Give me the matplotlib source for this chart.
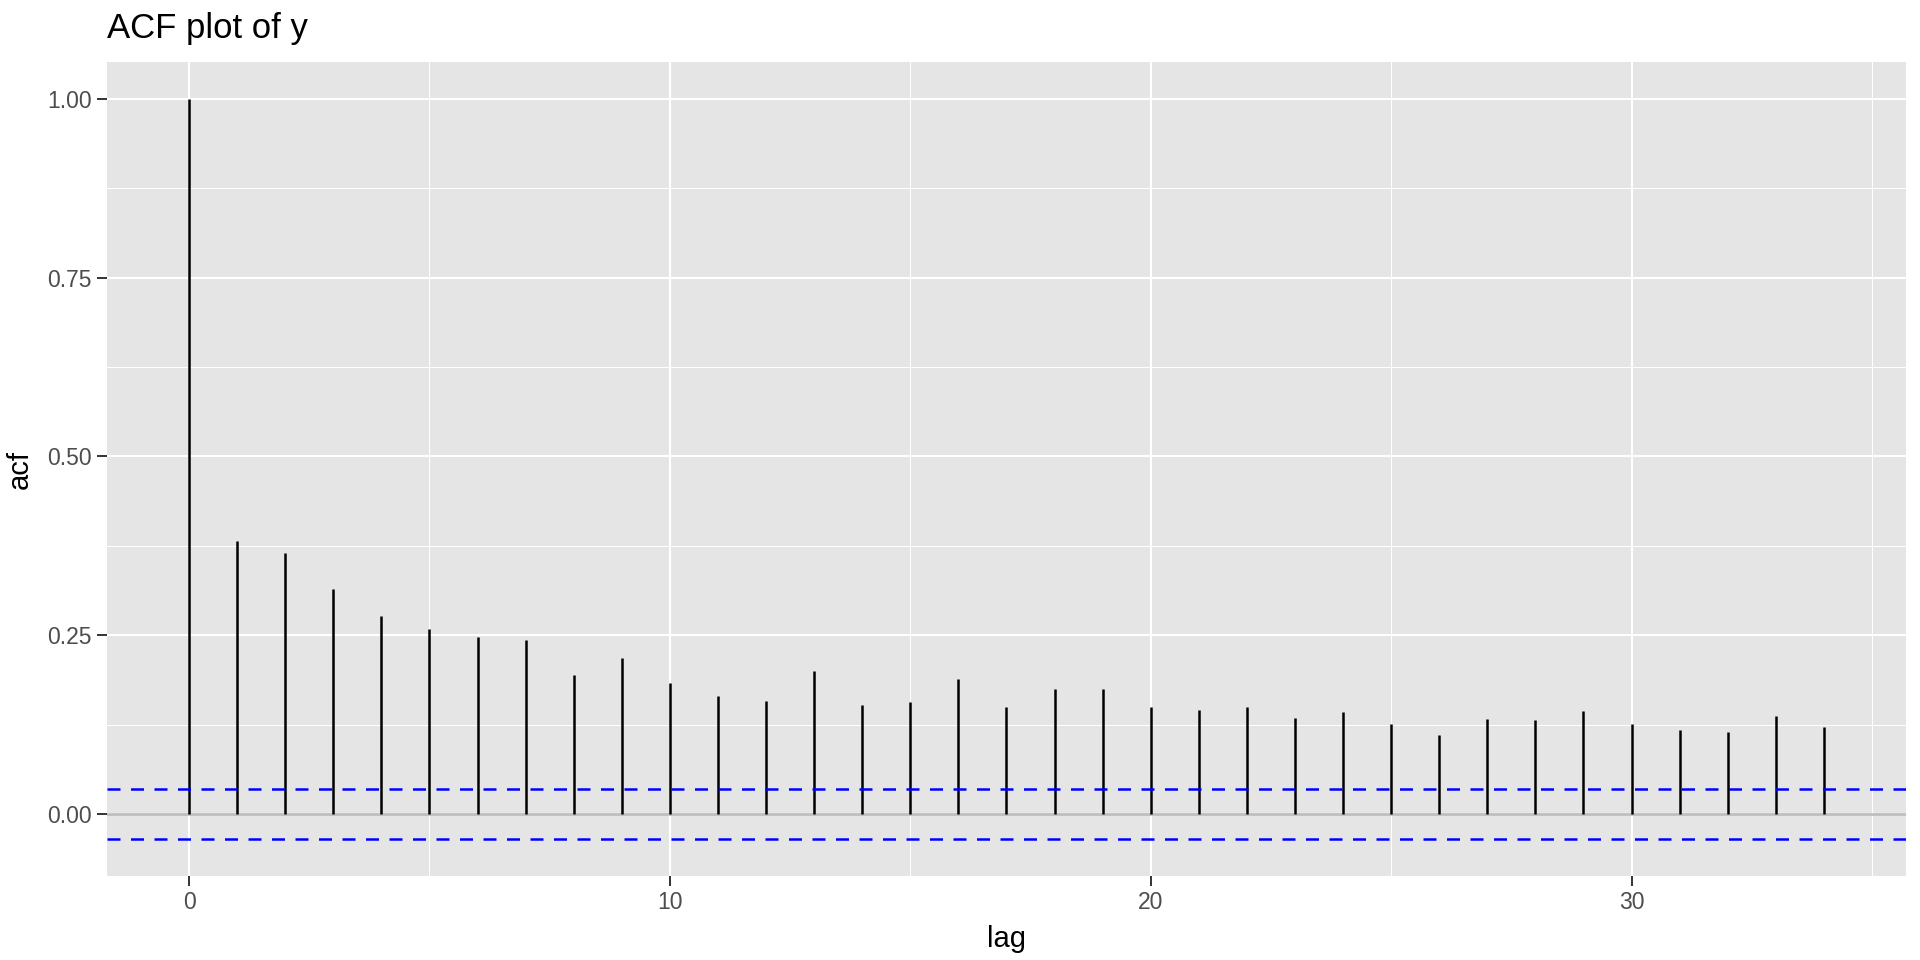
import matplotlib
matplotlib.use("Agg")
import matplotlib.pyplot as plt
import numpy as np

# ---- data ----
lags = list(range(35))
acf_vals = [1.000, 0.382, 0.365, 0.315, 0.277, 0.259, 0.248, 0.244, 0.194, 0.218,
            0.183, 0.165, 0.158, 0.200, 0.153, 0.156, 0.189, 0.150, 0.175, 0.175,
            0.149, 0.146, 0.149, 0.134, 0.143, 0.126, 0.110, 0.133, 0.131, 0.144,
            0.126, 0.118, 0.114, 0.137, 0.121]
ci_bound = 0.035
x_ticks = [0, 10, 20, 30]
x_minor = [5, 15, 25, 35]
y_ticks = [0.00, 0.25, 0.50, 0.75, 1.00]
y_tick_labels = ["0.00", "0.25", "0.50", "0.75", "1.00"]
y_minor = [-0.125, 0.125, 0.375, 0.625, 0.875]

plt.rcParams['font.family'] = ['Liberation Sans', 'DejaVu Sans']

fig = plt.figure(figsize=(19.2, 9.6), dpi=100)
ax = fig.add_axes([0.0559, 0.0875, 0.9366, 0.8479])
ax.set_facecolor("#E5E5E5")

# ggplot-like grid
for v in y_minor:
    ax.axhline(v, color="white", lw=0.75, zorder=0)
for v in x_minor:
    ax.axvline(v, color="white", lw=0.75, zorder=0)
for v in y_ticks:
    ax.axhline(v, color="white", lw=1.5, zorder=0)
for v in x_ticks:
    ax.axvline(v, color="white", lw=1.5, zorder=0)

# zero line, stems, confidence bounds
ax.axhline(0, color="#BEBEBE", lw=2.0, zorder=1)
ax.vlines(lags, 0, acf_vals, color="black", lw=1.8, zorder=2)
ax.axhline(ci_bound, color="#0000FF", lw=1.8, ls=(0, (5.2, 4.2)), zorder=3)
ax.axhline(-ci_bound, color="#0000FF", lw=1.8, ls=(0, (5.2, 4.2)), zorder=3)

# ggplot default expansion (5%)
lo, hi = -ci_bound, max(acf_vals)
ax.set_xlim(-0.05 * 34, 34 * 1.05)
ax.set_ylim(lo - 0.05 * (hi - lo), hi + 0.05 * (hi - lo))

ax.set_xticks(x_ticks)
ax.set_yticks(y_ticks)
ax.set_yticklabels(y_tick_labels)
ax.tick_params(axis="both", length=7, width=1.4, color="#333333",
               labelcolor="#4D4D4D", labelsize=16.5, pad=4)
for s in ax.spines.values():
    s.set_visible(False)

ax.set_xlabel("lag", fontsize=21, labelpad=8)
ax.set_ylabel("acf", fontsize=21, labelpad=10)
fig.text(0.0556, 0.970, "ACF plot of y", fontsize=25, ha="left", va="center")

fig.savefig("out.png", dpi=100, facecolor="white")
